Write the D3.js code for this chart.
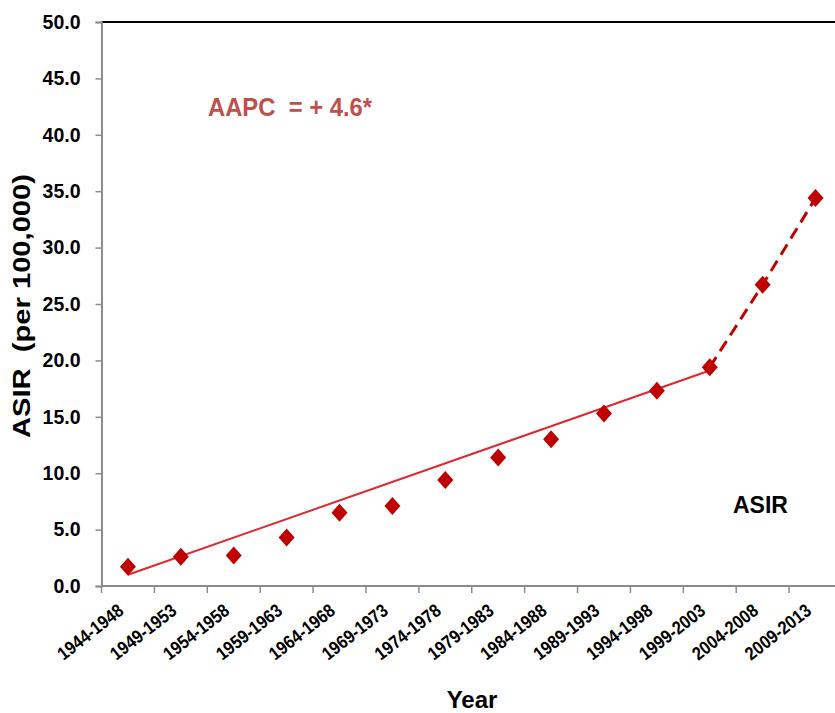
<!DOCTYPE html>
<html>
<head>
<meta charset="utf-8">
<script src="https://cdn.jsdelivr.net/npm/d3@7/dist/d3.min.js"></script>
<style>
  html, body { margin: 0; padding: 0; background: #fff; }
  svg { display: block; font-family: "Liberation Sans", Arial, sans-serif; }
  text.pre { white-space: pre; }
</style>
</head>
<body>
<svg id="chart" width="835" height="713"></svg>
<script>
const categories = ["1944-1948","1949-1953","1954-1958","1959-1963","1964-1968","1969-1973","1974-1978","1979-1983","1984-1988","1989-1993","1994-1998","1999-2003","2004-2008","2009-2013"];
const asir = [1.7, 2.6, 2.7, 4.3, 6.5, 7.1, 9.4, 11.4, 13.0, 15.3, 17.3, 19.4, 26.7, 34.4];
const fitCats = ["1944-1948", "1999-2003"];
const fitValues = [1.0, 19.1];
const dashCats = ["1999-2003", "2004-2008", "2009-2013"];
const dashValues = [19.4, 26.7, 34.4];
const yTicks = [0, 5, 10, 15, 20, 25, 30, 35, 40, 45, 50];
const annotation = "AAPC  = + 4.6*";
const legendLabel = "ASIR";

const svg = d3.select("#chart");
const mLeft = 101.5, mRight = 842, mTop = 22, mBottom = 586;

const x = d3.scaleBand().domain(categories).range([mLeft, mRight]).padding(0);
const y = d3.scaleLinear().domain([0, 50]).range([mBottom, mTop]);
const cx = c => x(c) + x.bandwidth() / 2;

// top border
svg.append("line").attr("x1", mLeft).attr("x2", 835).attr("y1", y(50)).attr("y2", y(50))
  .attr("stroke", "#000").attr("stroke-width", 2);

// y axis
const yAxis = d3.axisLeft(y).tickValues(yTicks).tickSize(6).tickFormat(d3.format(".1f"));
const gy = svg.append("g").attr("transform", `translate(${mLeft},0)`).call(yAxis);
gy.select(".domain").attr("stroke", "#8c8c8c").attr("stroke-width", 2);
gy.selectAll(".tick line").attr("stroke", "#8c8c8c").attr("stroke-width", 1.5);
gy.selectAll(".tick text").attr("x", -21).attr("font-size", 19.5).attr("font-weight", "bold")
  .attr("fill", "#000").attr("font-family", "Liberation Sans, Arial, sans-serif");

// x axis
svg.append("line").attr("x1", mLeft).attr("x2", 835).attr("y1", mBottom).attr("y2", mBottom)
  .attr("stroke", "#8c8c8c").attr("stroke-width", 2);
const edges = categories.map(c => x(c)).concat([x(categories[categories.length-1]) + x.bandwidth()]);
svg.append("g").selectAll("line").data(edges).join("line")
  .attr("x1", d => d).attr("x2", d => d).attr("y1", mBottom).attr("y2", mBottom + 7)
  .attr("stroke", "#8c8c8c").attr("stroke-width", 1.5);
svg.append("g").selectAll("text").data(categories).join("text")
  .attr("transform", d => `translate(${cx(d) - 3},613) rotate(-38)`)
  .attr("text-anchor", "end")
  .attr("font-size", 18.5).attr("font-weight", "bold").attr("fill", "#000")
  .attr("textLength", 78).attr("lengthAdjust", "spacingAndGlyphs")
  .text(d => d);

// axis titles
svg.append("text").attr("class", "pre").attr("transform", "translate(30,306) rotate(-90)")
  .attr("text-anchor", "middle").attr("font-size", 24).attr("font-weight", "bold")
  .attr("textLength", 264).attr("lengthAdjust", "spacingAndGlyphs")
  .text("ASIR  (per 100,000)");
svg.append("text").attr("x", 472).attr("y", 708).attr("text-anchor", "middle")
  .attr("font-size", 24).attr("font-weight", "bold").text("Year");

// fit line
const line = d3.line().x(d => cx(d[0])).y(d => y(d[1]));
svg.append("path").datum(fitCats.map((c, i) => [c, fitValues[i]]))
  .attr("d", line).attr("fill", "none").attr("stroke", "#e0282e").attr("stroke-width", 2);
svg.append("path").datum(dashCats.map((c, i) => [c, dashValues[i]]))
  .attr("d", line).attr("fill", "none").attr("stroke", "#c00000").attr("stroke-width", 3)
  .attr("stroke-dasharray", "12,7");

// diamonds
const diamond = (hw, hh) => `M0,${-hh}L${hw},0L0,${hh}L${-hw},0Z`;
svg.append("g").selectAll("path").data(categories).join("path")
  .attr("transform", (d, i) => `translate(${cx(d)},${y(asir[i])})`)
  .attr("d", diamond(8, 9)).attr("fill", "#c00000");

// annotation
svg.append("text").attr("class", "pre").attr("x", 208).attr("y", 116).attr("font-size", 25).attr("font-weight", "bold")
  .attr("fill", "#c0504d").attr("textLength", 164).attr("lengthAdjust", "spacingAndGlyphs")
  .text(annotation);
svg.append("text").attr("x", 733).attr("y", 513).attr("font-size", 23).attr("font-weight", "bold")
  .attr("fill", "#000").text(legendLabel);
</script>
</body>
</html>
